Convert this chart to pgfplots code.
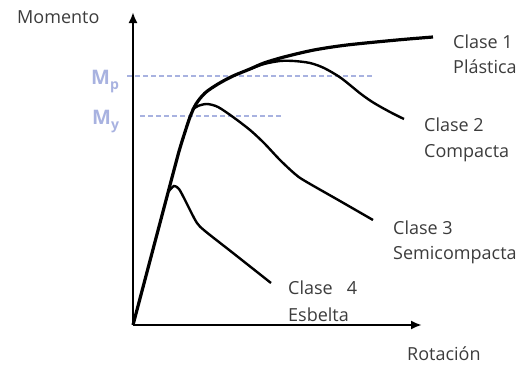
\documentclass[border=0pt]{standalone}
\usepackage{pgfplots}
\pgfplotsset{compat=1.18}
\usepackage{fontspec}
\setmainfont{Open Sans}
\usetikzlibrary{arrows.meta}
\definecolor{txt}{RGB}{60,60,60}
\definecolor{lav}{RGB}{168,178,224}
\begin{document}
\begin{tikzpicture}
\begin{axis}[
  scale only axis,
  width=528pt, height=365pt,
  xmin=0, xmax=528, ymin=0, ymax=365,
  y dir=reverse,
  hide axis,
  clip=false,
]
\path (rel axis cs:0,0) rectangle (rel axis cs:1,1);
% M_p and M_y levels
\addplot[lav, line width=2.4pt, dash pattern=on 5pt off 3pt] coordinates {(127,76) (374,76)};
\addplot[lav, line width=2.4pt, dash pattern=on 5pt off 3pt] coordinates {(140,116) (282,116)};
% Clase 1
\addplot[black, line width=3.2pt, smooth] coordinates {
  (133,325) (174,170) (180,148) (185,132) (190,117) (196,104) (205,93)
  (218,84) (233,76) (250,69) (264,63) (284,57) (314,50) (347,45) (397,40) (433,37)};
% Clase 2
\addplot[black, line width=2.4pt, smooth] coordinates {
  (250,69) (264,64) (280,61) (294,61) (310,63) (324,68) (341,78) (361,94)
  (374,103) (390,112) (404,119)};
% Clase 3
\addplot[black, line width=2.4pt, smooth] coordinates {
  (192,110) (198,106) (207,104) (218,107) (233,117) (250,130) (264,143)
  (280,160) (295,174) (305,181) (340,201) (373,220)};
% Clase 4
\addplot[black, line width=2.4pt, smooth] coordinates {
  (169,191) (174,186) (179,189) (185,200) (190,210) (197,223) (205,231)
  (233,253) (271,283)};
% axes
\draw[black, line width=2.6pt, -{Latex[length=11pt,width=9pt]}] (axis cs:133,325) -- (axis cs:422,325);
\draw[black, line width=2.6pt, -{Latex[length=11pt,width=9pt]}] (axis cs:133,325) -- (axis cs:133,12);
% labels
\tikzset{lbl/.style={anchor=base west, inner sep=0pt, text=txt, font=\fontsize{18}{22}\selectfont}}
\node[lbl] at (axis cs:17,23) {Momento};
\node[lbl] at (axis cs:407,360) {Rotación};
\node[lbl] at (axis cs:453,48) {Clase 1};
\node[lbl] at (axis cs:453,73) {Plástica};
\node[lbl] at (axis cs:424,131) {Clase 2};
\node[lbl] at (axis cs:424,157) {Compacta};
\node[lbl] at (axis cs:393,234) {Clase 3};
\node[lbl] at (axis cs:393,259) {Semicompacta};
\node[lbl] at (axis cs:288,294) {Clase\ \ \ 4};
\node[lbl] at (axis cs:288,321) {Esbelta};
\tikzset{mlbl/.style={anchor=base west, inner sep=0pt, text=lav, font=\fontsize{20}{24}\selectfont\bfseries}}
\node[mlbl] at (axis cs:91,84) {M\raisebox{-5pt}{\fontsize{14}{16}\selectfont p}};
\node[mlbl] at (axis cs:92,124) {M\raisebox{-5pt}{\fontsize{14}{16}\selectfont y}};
\end{axis}
\end{tikzpicture}
\end{document}
